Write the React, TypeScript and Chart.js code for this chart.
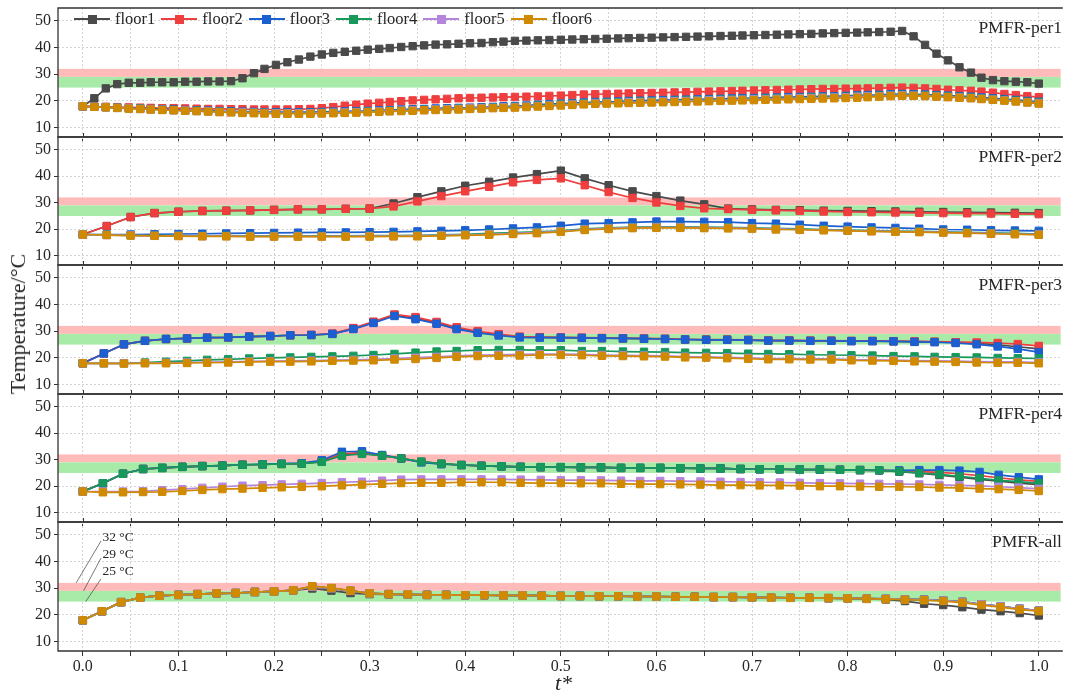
import React, { useEffect, useRef } from "react";
import { Chart, registerables } from "chart.js";

Chart.register(...registerables);

// ---------- categories / labels ----------
const FLOORS = ["floor1", "floor2", "floor3", "floor4", "floor5", "floor6"];
const COLORS = ["#4a4a4a", "#ef3e3e", "#1b5fd1", "#16995b", "#b585de", "#d08a00"];
const PANEL_LABELS = ["PMFR-per1", "PMFR-per2", "PMFR-per3", "PMFR-per4", "PMFR-all"];
const X_TICK_VALUES = [0, 0.1, 0.2, 0.3, 0.4, 0.5, 0.6, 0.7, 0.8, 0.9, 1.0];
const X_TICK_LABELS = ["0.0", "0.1", "0.2", "0.3", "0.4", "0.5", "0.6", "0.7", "0.8", "0.9", "1.0"];
const X_GRID_VALUES = [0, 0.05, 0.1, 0.15, 0.2, 0.25, 0.3, 0.35, 0.4, 0.45, 0.5, 0.55, 0.6, 0.65, 0.7, 0.75, 0.8, 0.85, 0.9, 0.95, 1.0];
const Y_TICK_VALUES = [10, 20, 30, 40, 50];
const Y_TICK_LABELS = ["10", "20", "30", "40", "50"];
const Y_GRID_VALUES = [10, 15, 20, 25, 30, 35, 40, 45, 50];
const BAND_WARM = [29, 32];
const BAND_COMFORT = [25, 29];
const THRESHOLDS = [32, 29, 25];
const THRESHOLD_LABELS = ["32 °C", "29 °C", "25 °C"];
const Y_TITLE = "Temperature/°C";
const X_TITLE = "t*";

// ---------- x sample positions ----------
const X_P1 = [0, 0.012, 0.024, 0.036, 0.048, 0.060, 0.071, 0.083, 0.095, 0.107, 0.119, 0.131, 0.143, 0.155, 0.167, 0.179, 0.190, 0.202, 0.214, 0.226, 0.238, 0.25, 0.262, 0.274, 0.286, 0.298, 0.310, 0.321, 0.333, 0.345, 0.357, 0.369, 0.381, 0.393, 0.405, 0.417, 0.429, 0.440, 0.452, 0.464, 0.476, 0.488, 0.5, 0.512, 0.524, 0.536, 0.548, 0.560, 0.571, 0.583, 0.595, 0.607, 0.619, 0.631, 0.643, 0.655, 0.667, 0.679, 0.690, 0.702, 0.714, 0.726, 0.738, 0.75, 0.762, 0.774, 0.786, 0.798, 0.810, 0.821, 0.833, 0.845, 0.857, 0.869, 0.881, 0.893, 0.905, 0.917, 0.929, 0.940, 0.952, 0.964, 0.976, 0.988, 1.0];
const X_P2 = [0, 0.025, 0.05, 0.075, 0.1, 0.125, 0.15, 0.175, 0.2, 0.225, 0.25, 0.275, 0.3, 0.325, 0.35, 0.375, 0.4, 0.425, 0.45, 0.475, 0.5, 0.525, 0.55, 0.575, 0.6, 0.625, 0.65, 0.675, 0.7, 0.725, 0.75, 0.775, 0.8, 0.825, 0.85, 0.875, 0.9, 0.925, 0.95, 0.975, 1.0];
const X_P3 = [0, 0.022, 0.043, 0.065, 0.087, 0.109, 0.130, 0.152, 0.174, 0.196, 0.217, 0.239, 0.261, 0.283, 0.304, 0.326, 0.348, 0.370, 0.391, 0.413, 0.435, 0.457, 0.478, 0.5, 0.522, 0.543, 0.565, 0.587, 0.609, 0.630, 0.652, 0.674, 0.696, 0.717, 0.739, 0.761, 0.783, 0.804, 0.826, 0.848, 0.870, 0.891, 0.913, 0.935, 0.957, 0.978, 1.0];
const X_P4 = [0, 0.021, 0.042, 0.063, 0.083, 0.104, 0.125, 0.146, 0.167, 0.188, 0.208, 0.229, 0.25, 0.271, 0.292, 0.313, 0.333, 0.354, 0.375, 0.396, 0.417, 0.438, 0.458, 0.479, 0.5, 0.521, 0.542, 0.563, 0.583, 0.604, 0.625, 0.646, 0.667, 0.688, 0.708, 0.729, 0.75, 0.771, 0.792, 0.813, 0.833, 0.854, 0.875, 0.896, 0.917, 0.938, 0.958, 0.979, 1.0];
const X_P5 = [0, 0.02, 0.04, 0.06, 0.08, 0.1, 0.12, 0.14, 0.16, 0.18, 0.2, 0.22, 0.24, 0.26, 0.28, 0.3, 0.32, 0.34, 0.36, 0.38, 0.4, 0.42, 0.44, 0.46, 0.48, 0.5, 0.52, 0.54, 0.56, 0.58, 0.6, 0.62, 0.64, 0.66, 0.68, 0.7, 0.72, 0.74, 0.76, 0.78, 0.8, 0.82, 0.84, 0.86, 0.88, 0.9, 0.92, 0.94, 0.96, 0.98, 1.0];

// ---------- PMFR-per1 ----------
const P1_F1 = [18, 21, 24.7, 26.3, 26.8, 26.8, 27, 27, 27, 27.2, 27.2, 27.3, 27.3, 27.4, 28.5, 30.4, 32, 33.5, 34.5, 35.5, 36.6, 37.4, 38, 38.4, 38.8, 39.2, 39.5, 39.8, 40.2, 40.5, 40.8, 41.1, 41.2, 41.4, 41.6, 41.7, 42, 42.2, 42.5, 42.6,
  42.7, 42.8, 42.9, 43.0, 43.1, 43.2, 43.3, 43.4, 43.5, 43.6, 43.7, 43.8, 43.9, 44.0, 44.1, 44.2, 44.3, 44.4, 44.5, 44.6, 44.7, 44.8, 44.9, 45.0, 45.1, 45.3, 45.4, 45.5, 45.6, 45.7, 45.8, 45.9, 46.2,
  44.2, 41, 37.7, 35.2, 32.6, 30.6, 28.7, 27.8, 27.4, 27.2, 27, 26.5];
const P1_F2 = [18, 17.9, 17.8, 17.7, 17.6, 17.5, 17.4, 17.3, 17.3, 17.2, 17.1, 17.0, 17.0, 16.9, 16.9, 16.8, 16.8, 16.8, 16.8, 16.9,
  17.0, 17.3, 17.7, 18.2, 18.6, 19.0, 19.3, 19.6, 19.9, 20.2, 20.4, 20.6, 20.8, 21.0, 21.1, 21.2, 21.3, 21.4, 21.5, 21.6,
  21.7, 21.9, 22.0, 22.2, 22.4, 22.5, 22.6, 22.7, 22.8, 22.9, 23.0, 23.1, 23.2, 23.3, 23.4, 23.5, 23.6, 23.7, 23.8, 23.9, 24.0, 24.1, 24.2, 24.3, 24.4, 24.5, 24.5, 24.6, 24.6, 24.7, 24.8, 24.9, 25.0,
  24.9, 24.7, 24.5, 24.2, 24.0, 23.8, 23.5, 23.1, 22.6, 22.2, 21.8, 21.4];
const P1_F3 = [18, 17.9, 17.7, 17.5, 17.3, 17.2, 17.0, 16.9, 16.8, 16.6, 16.5, 16.4, 16.2, 16.1, 16.0, 15.9, 15.8, 15.8, 15.8, 15.8,
  15.8, 15.9, 16.0, 16.1, 16.2, 16.3, 16.5, 16.6, 16.8, 16.9, 17.0, 17.2, 17.3, 17.4, 17.5, 17.7, 17.8, 18.0, 18.1, 18.3,
  18.6, 18.8, 19.0, 19.2, 19.4, 19.6, 19.7, 19.8, 20.0, 20.1, 20.2, 20.3, 20.4, 20.5, 20.6, 20.7, 20.8, 20.9, 21.0, 21.1, 21.2, 21.3, 21.4, 21.5, 21.6, 21.7, 21.8, 21.9, 22.1, 22.2, 22.3, 22.5, 22.6,
  22.5, 22.4, 22.2, 22.0, 21.8, 21.6, 21.3, 21.0, 20.7, 20.4, 20.0, 19.7];
const P1_F4 = [18, 17.8, 17.6, 17.4, 17.2, 17.1, 16.9, 16.7, 16.6, 16.4, 16.3, 16.2, 16.0, 15.9, 15.8, 15.7, 15.6, 15.5, 15.5, 15.5,
  15.5, 15.6, 15.7, 15.8, 15.9, 16.0, 16.2, 16.3, 16.5, 16.6, 16.7, 16.9, 17.0, 17.1, 17.3, 17.4, 17.5, 17.7, 17.8, 18.0,
  18.3, 18.5, 18.7, 18.9, 19.1, 19.3, 19.4, 19.5, 19.7, 19.8, 19.9, 20.0, 20.1, 20.2, 20.3, 20.4, 20.5, 20.6, 20.7, 20.8, 20.9, 21.0, 21.1, 21.2, 21.3, 21.4, 21.5, 21.6, 21.8, 21.9, 22.0, 22.2, 22.3,
  22.2, 22.1, 21.9, 21.7, 21.5, 21.3, 21.0, 20.7, 20.4, 20.1, 19.7, 19.4];
const P1_F5 = [18, 17.8, 17.6, 17.4, 17.2, 17.0, 16.8, 16.7, 16.5, 16.4, 16.2, 16.1, 15.9, 15.8, 15.7, 15.6, 15.5, 15.4, 15.4, 15.4,
  15.4, 15.5, 15.6, 15.7, 15.8, 15.9, 16.1, 16.2, 16.4, 16.5, 16.6, 16.8, 16.9, 17.0, 17.2, 17.3, 17.4, 17.6, 17.7, 17.9,
  18.1, 18.3, 18.5, 18.7, 18.9, 19.1, 19.2, 19.3, 19.5, 19.6, 19.7, 19.8, 19.9, 20.0, 20.1, 20.2, 20.3, 20.4, 20.5, 20.6, 20.7, 20.8, 20.9, 21.0, 21.1, 21.2, 21.3, 21.4, 21.6, 21.7, 21.8, 22.0, 22.1,
  22.0, 21.9, 21.7, 21.5, 21.3, 21.1, 20.8, 20.5, 20.2, 19.9, 19.5, 19.2];
const P1_F6 = [18, 17.8, 17.6, 17.4, 17.1, 17.0, 16.8, 16.6, 16.5, 16.3, 16.2, 16.0, 15.8, 15.7, 15.5, 15.4, 15.3, 15.2, 15.2, 15.2,
  15.2, 15.3, 15.4, 15.5, 15.6, 15.8, 15.9, 16.1, 16.2, 16.3, 16.5, 16.6, 16.7, 16.8, 17.0, 17.1, 17.3, 17.4, 17.5, 17.7,
  17.9, 18.1, 18.3, 18.5, 18.7, 18.9, 19.0, 19.1, 19.2, 19.3, 19.4, 19.5, 19.6, 19.7, 19.8, 19.9, 20.0, 20.1, 20.2, 20.3, 20.4, 20.5, 20.6, 20.7, 20.8, 20.9, 21.0, 21.1, 21.2, 21.4, 21.6, 21.8, 21.9,
  21.9, 21.8, 21.6, 21.4, 21.2, 21.0, 20.7, 20.4, 20.1, 19.8, 19.4, 19.0];

// ---------- PMFR-per2 ----------
const P2_F1 = [18, 21.2, 24.6, 26.1, 26.6, 26.9, 27.0, 27.1, 27.3, 27.5, 27.5, 27.7, 27.8,
  29.7, 32.1, 34.3, 36.4, 37.9, 39.5, 40.8, 42.1, 39.2, 36.6, 34.3, 32.5, 30.8, 29.4,
  27.8, 27.5, 27.3, 27.2, 27.0, 26.9, 26.8, 26.7, 26.6, 26.5, 26.4, 26.3, 26.2, 26.1];
const P2_F2 = [18, 21.2, 24.6, 26.1, 26.6, 26.9, 27.0, 27.1, 27.3, 27.5, 27.5, 27.7, 27.8,
  28.6, 30.5, 32.5, 34.3, 36.0, 37.7, 38.6, 39.2, 36.6, 34.0, 31.8, 30.1, 28.8, 27.9,
  27.6, 27.3, 27.1, 26.9, 26.7, 26.5, 26.4, 26.3, 26.2, 26.1, 26.0, 25.9, 25.8, 25.7];
const P2_F3 = [18, 18, 18, 18.1, 18.2, 18.3, 18.4, 18.5, 18.6, 18.7, 18.8, 18.8, 18.9, 19.0, 19.2, 19.4, 19.6, 19.9, 20.3, 20.7, 21.3,
  22.1, 22.3, 22.6, 22.9, 22.9, 22.8, 22.7, 22.3, 22.1, 21.7, 21.3, 21.0, 20.7, 20.5, 20.2, 19.9, 19.8, 19.6, 19.5, 19.4];
const P2_F4 = [18, 17.9, 17.7, 17.6, 17.6, 17.5, 17.5, 17.5, 17.5, 17.5, 17.5, 17.5, 17.6, 17.6, 17.7, 17.9, 18.1, 18.4, 18.7, 19.0, 19.4,
  20.1, 20.5, 20.8, 20.9, 20.9, 20.8, 20.7, 20.5, 20.3, 20.1, 19.9, 19.7, 19.5, 19.3, 19.2, 19.0, 18.8, 18.6, 18.4, 18.2];
const P2_F5 = [18, 17.8, 17.7, 17.5, 17.5, 17.4, 17.4, 17.3, 17.3, 17.3, 17.3, 17.3, 17.4, 17.4, 17.5, 17.7, 17.9, 18.1, 18.4, 18.7, 19.2,
  19.9, 20.3, 20.6, 20.7, 20.7, 20.6, 20.5, 20.3, 20.1, 19.9, 19.7, 19.5, 19.3, 19.1, 19.0, 18.8, 18.6, 18.4, 18.2, 18.0];
const P2_F6 = [18, 17.8, 17.6, 17.5, 17.4, 17.3, 17.3, 17.2, 17.2, 17.2, 17.2, 17.2, 17.2, 17.3, 17.3, 17.5, 17.7, 17.9, 18.2, 18.5, 19.0,
  19.7, 20.1, 20.4, 20.5, 20.5, 20.4, 20.3, 20.2, 19.9, 19.8, 19.6, 19.4, 19.2, 19.0, 18.9, 18.7, 18.5, 18.3, 18.1, 17.9];

// ---------- PMFR-per3 ----------
const P3_F1 = [18, 21.7, 25.1, 26.4, 27.1, 27.3, 27.6, 27.7, 28.0, 28.2, 28.5, 28.6, 29.0, 31.0, 33.3, 36.0, 34.9, 33.1, 31.1, 29.7, 28.6, 27.8,
  27.7, 27.6, 27.5, 27.4, 27.3, 27.2, 27.1, 26.9, 26.8, 26.8, 26.7, 26.5, 26.5, 26.4, 26.4, 26.3, 26.3, 26.2, 26.1, 26.0, 25.8, 25.5, 24.9, 24.2, 23.4];
const P3_F2 = [18, 21.7, 25.1, 26.4, 27.1, 27.3, 27.6, 27.7, 28.0, 28.2, 28.5, 28.6, 29.1, 31.2, 33.6, 36.3, 35.3, 33.5, 31.5, 30.0, 28.9, 28.0,
  27.8, 27.7, 27.6, 27.5, 27.4, 27.3, 27.2, 27.0, 26.9, 26.9, 26.8, 26.6, 26.6, 26.5, 26.5, 26.4, 26.4, 26.3, 26.2, 26.1, 25.9, 25.8, 25.6, 25.2, 24.5];
const P3_F3 = [18, 21.7, 25.1, 26.4, 27.1, 27.3, 27.6, 27.7, 28.0, 28.2, 28.5, 28.6, 29.0, 30.8, 33.1, 35.7, 34.5, 32.8, 30.8, 29.4, 28.4, 27.7,
  27.6, 27.6, 27.5, 27.4, 27.3, 27.2, 27.1, 26.9, 26.8, 26.8, 26.7, 26.5, 26.5, 26.4, 26.4, 26.3, 26.3, 26.2, 26.0, 25.9, 25.6, 25.1, 24.3, 23.4, 22.2];
const P3_F4 = [18, 18, 18, 18.3, 18.6, 18.9, 19.3, 19.5, 19.8, 20.0, 20.2, 20.4, 20.6, 20.8, 21.1, 21.5, 22.0, 22.4, 22.6, 22.9, 23.0, 23.0,
  22.9, 22.9, 22.6, 22.6, 22.4, 22.3, 22.2, 22.0, 21.9, 21.8, 21.6, 21.5, 21.4, 21.2, 21.1, 21.0, 20.9, 20.7, 20.6, 20.4, 20.3, 20.2, 20.0, 19.9, 19.8];
const P3_F5 = [18, 18, 18, 18.1, 18.2, 18.3, 18.4, 18.5, 18.7, 18.8, 18.9, 19.0, 19.2, 19.3, 19.5, 19.8, 20.1, 20.4, 20.8, 21.1, 21.2, 21.3,
  21.4, 21.4, 21.3, 21.1, 21.0, 20.9, 20.8, 20.5, 20.4, 20.2, 20.0, 19.8, 19.8, 19.7, 19.7, 19.4, 19.3, 19.2, 19.0, 18.9, 18.8, 18.6, 18.5, 18.5, 18.3];
const P3_F6 = [18, 18, 17.9, 18, 18, 18.1, 18.2, 18.3, 18.5, 18.6, 18.6, 18.7, 18.9, 19.0, 19.1, 19.4, 19.6, 20.0, 20.4, 20.7, 20.8, 20.9,
  21.1, 21.1, 21.0, 20.8, 20.7, 20.6, 20.5, 20.2, 20.1, 19.9, 19.7, 19.5, 19.5, 19.4, 19.4, 19.1, 19.0, 18.9, 18.7, 18.6, 18.5, 18.3, 18.2, 18.2, 18.0];

// ---------- PMFR-per4 ----------
const P4_F1 = [18, 21.1, 24.7, 26.5, 26.9, 27.3, 27.6, 27.8, 28.1, 28.2, 28.4, 28.5, 29.3, 31.8, 32.5, 31.5, 30.5, 29.2, 28.5, 28.0, 27.7, 27.5, 27.3,
  27.2, 27.2, 27.1, 27.1, 26.9, 26.9, 26.9, 26.8, 26.7, 26.7, 26.5, 26.4, 26.4, 26.3, 26.3, 26.2, 26.1, 26.0, 25.5, 24.9, 24.2, 23.4, 22.6, 21.9, 21.2, 20.6];
const P4_F2 = [18, 21.1, 24.7, 26.5, 26.9, 27.3, 27.6, 27.8, 28.1, 28.2, 28.4, 28.6, 29.5, 32.3, 32.7, 31.6, 30.5, 29.1, 28.4, 28.0, 27.7, 27.5, 27.3,
  27.2, 27.2, 27.1, 27.1, 26.9, 26.9, 26.9, 26.8, 26.7, 26.7, 26.5, 26.4, 26.4, 26.3, 26.3, 26.2, 26.1, 26.0, 25.8, 25.5, 25.2, 24.7, 24.0, 23.2, 22.4, 21.8];
const P4_F3 = [18, 21.1, 24.7, 26.5, 26.9, 27.3, 27.6, 27.8, 28.1, 28.3, 28.5, 28.7, 29.8, 33.0, 33.2, 31.8, 30.5, 29.0, 28.3, 28.0, 27.7, 27.5, 27.3,
  27.2, 27.2, 27.1, 27.1, 26.9, 26.9, 26.9, 26.8, 26.7, 26.7, 26.5, 26.4, 26.4, 26.3, 26.3, 26.2, 26.1, 26.0, 26.0, 26.1, 26.1, 25.9, 25.4, 24.3, 23.4, 22.6];
const P4_F4 = [18, 21.1, 24.7, 26.5, 26.9, 27.3, 27.6, 27.8, 28.1, 28.2, 28.4, 28.5, 29.2, 31.5, 32.2, 31.5, 30.5, 29.3, 28.5, 28.0, 27.7, 27.5, 27.3,
  27.2, 27.2, 27.1, 27.1, 26.9, 26.9, 26.9, 26.8, 26.7, 26.7, 26.5, 26.4, 26.4, 26.3, 26.3, 26.2, 26.1, 26.0, 25.6, 25.0, 24.5, 23.7, 23.0, 22.2, 21.7, 21.1];
const P4_F5 = [18, 18, 18, 18.1, 18.5, 18.9, 19.4, 19.8, 20.2, 20.4, 20.7, 20.9, 21.2, 21.5, 21.7, 22.1, 22.5, 22.6, 22.6, 22.6, 22.6, 22.6, 22.5,
  22.4, 22.3, 22.3, 22.2, 22.1, 22.0, 22.0, 21.9, 21.8, 21.7, 21.6, 21.5, 21.4, 21.3, 21.2, 21.1, 21.0, 20.9, 20.8, 20.7, 20.5, 20.3, 20.1, 19.8, 19.5, 19.0];
const P4_F6 = [18, 17.7, 17.7, 17.8, 17.9, 18.2, 18.6, 18.9, 19.1, 19.4, 19.6, 19.8, 20.0, 20.3, 20.6, 20.9, 21.2, 21.3, 21.3, 21.5, 21.5, 21.5, 21.3,
  21.2, 21.2, 21.1, 21.1, 20.9, 20.8, 20.8, 20.7, 20.6, 20.4, 20.4, 20.3, 20.3, 20.2, 20.0, 20.0, 19.9, 19.8, 19.8, 19.7, 19.5, 19.4, 19.1, 18.9, 18.6, 18.2];

// ---------- PMFR-all ----------
const P5_F1 = [18, 21.4, 24.8, 26.5, 27.2, 27.5, 27.8, 28.1, 28.2, 28.6, 28.8, 29.2, 29.9, 29.1, 28.2, 27.8, 27.7, 27.6, 27.5, 27.5, 27.4, 27.4, 27.3, 27.3,
  27.2, 27.1, 27.1, 27.0, 27.0, 26.9, 26.9, 26.8, 26.8, 26.7, 26.7, 26.6, 26.5, 26.4, 26.4, 26.3, 26.2, 26.0,
  25.8, 25.2, 24.2, 23.7, 22.9, 22.0, 21.4, 20.7, 19.8];
const P5_MID = [18, 21.4, 24.8, 26.5, 27.2, 27.5, 27.8, 28.1, 28.2, 28.6, 28.8, 29.2, 30.6, 30.0, 29.0, 28.1, 27.8, 27.7, 27.5, 27.5, 27.4, 27.4, 27.3, 27.3,
  27.2, 27.1, 27.1, 27.0, 27.0, 26.9, 26.9, 26.8, 26.8, 26.7, 26.7, 26.6, 26.5, 26.4, 26.4, 26.3, 26.2, 26.1,
  26.0, 25.8, 25.7, 25.4, 24.9, 24.0, 23.2, 22.3, 21.6];
const P5_F6 = [18, 21.4, 24.8, 26.5, 27.2, 27.5, 27.8, 28.1, 28.2, 28.6, 28.8, 29.2, 30.8, 30.1, 29.1, 28.1, 27.8, 27.7, 27.5, 27.5, 27.4, 27.4, 27.3, 27.3,
  27.2, 27.1, 27.1, 27.0, 27.0, 26.9, 26.9, 26.8, 26.8, 26.7, 26.7, 26.6, 26.5, 26.4, 26.4, 26.3, 26.2, 26.1,
  25.9, 25.7, 25.5, 25.2, 24.6, 23.7, 22.9, 22.0, 21.4];

const PANELS = [
  { x: X_P1, series: [P1_F1, P1_F2, P1_F3, P1_F4, P1_F5, P1_F6] },
  { x: X_P2, series: [P2_F1, P2_F2, P2_F3, P2_F4, P2_F5, P2_F6] },
  { x: X_P3, series: [P3_F1, P3_F2, P3_F3, P3_F4, P3_F5, P3_F6] },
  { x: X_P4, series: [P4_F1, P4_F2, P4_F3, P4_F4, P4_F5, P4_F6] },
  { x: X_P5, series: [P5_F1, P5_MID, P5_MID, P5_MID, P5_MID, P5_F6] },
];

// ---------- layout / style ----------
const PAGE_W = 1067;
const PAGE_H = 696;
const PANEL_TOP = 8;
const PANEL_STEP = 128.5;
const PAD = 14;
const LEFT_W = 58;
const X_MIN = -0.026;
const X_MAX = 1.023;
const Y_MIN = 6.5;
const Y_MAX = 54.8;
const FONT = '"Liberation Serif", "Times New Roman", serif';
const INK = "#262626";
const GRID = "#d4d4d4";
const WARM_FILL = "#ffbaba";
const COMFORT_FILL = "#a8eba9";

const panelPlugin = (index: number) => ({
  id: "panelDecor" + index,
  beforeDatasetsDraw(chart: any) {
    const { ctx, chartArea: a, scales } = chart;
    const y = scales.y;
    ctx.save();
    ctx.beginPath();
    ctx.rect(a.left, a.top, a.right - a.left, a.bottom - a.top);
    ctx.clip();
    const yw1 = y.getPixelForValue(BAND_WARM[1]);
    const yw0 = y.getPixelForValue(BAND_WARM[0]);
    const yc0 = y.getPixelForValue(BAND_COMFORT[0]);
    ctx.fillStyle = WARM_FILL;
    ctx.fillRect(a.left, yw1, a.right - a.left, yw0 - yw1);
    ctx.fillStyle = COMFORT_FILL;
    ctx.fillRect(a.left, yw0, a.right - a.left, yc0 - yw0);
    ctx.restore();
  },
  afterDraw(chart: any) {
    const { ctx, chartArea: a, scales } = chart;
    ctx.save();
    ctx.strokeStyle = "#333";
    ctx.lineWidth = 1.3;
    ctx.beginPath();
    ctx.moveTo(a.right + 2, a.top);
    ctx.lineTo(a.left, a.top);
    ctx.lineTo(a.left, a.bottom);
    ctx.lineTo(a.right + 2, a.bottom);
    ctx.stroke();
    if (index > 0) {
      ctx.lineWidth = 1;
      ctx.beginPath();
      for (const v of X_GRID_VALUES) {
        const px = Math.round(scales.x.getPixelForValue(v)) + 0.5;
        ctx.moveTo(px, a.top);
        ctx.lineTo(px, a.top - 4);
      }
      ctx.stroke();
    }
    if (index === PANELS.length - 1) {
      const xs = scales.x;
      const ys = scales.y;
      const lowX = [-0.007, 0.0007, 0.003];
      const highY = [47.7, 41.3, 33.5];
      const textY = [49.0, 42.5, 36.4];
      ctx.strokeStyle = "#555";
      ctx.lineWidth = 0.8;
      ctx.fillStyle = INK;
      ctx.font = "13.5px " + FONT;
      ctx.textBaseline = "middle";
      ctx.textAlign = "left";
      THRESHOLDS.forEach((t, k) => {
        ctx.beginPath();
        ctx.moveTo(xs.getPixelForValue(lowX[k]), ys.getPixelForValue(t));
        ctx.lineTo(xs.getPixelForValue(0.019), ys.getPixelForValue(highY[k]));
        ctx.stroke();
        ctx.fillText(THRESHOLD_LABELS[k], xs.getPixelForValue(0.0205), ys.getPixelForValue(textY[k]));
      });
    }
    ctx.restore();
  },
});

function Panel({ index }: { index: number }) {
  const ref = useRef<HTMLCanvasElement | null>(null);
  const top = Math.round(PANEL_TOP + PANEL_STEP * index);
  const bottom = Math.round(PANEL_TOP + PANEL_STEP * (index + 1));
  const last = index === PANELS.length - 1;
  const below = last ? PAGE_H - bottom : PAD;
  const h = bottom - top + PAD + below;

  useEffect(() => {
    const p = PANELS[index];
    const datasets = p.series.map((ys, k) => ({
      label: FLOORS[k],
      data: p.x.map((x, i) => ({ x, y: ys[i] })).filter((d) => d.y !== undefined),
      borderColor: COLORS[k],
      backgroundColor: COLORS[k],
      pointBackgroundColor: COLORS[k],
      pointBorderColor: COLORS[k],
      borderWidth: 1.7,
      pointStyle: "rect",
      pointRadius: 5.2,
      pointBorderWidth: 1,
      tension: 0,
      order: FLOORS.length - 1 - k,
    }));
    const tickFont = { family: FONT, size: 16 };
    const chart = new Chart(ref.current as HTMLCanvasElement, {
      type: "line",
      data: { datasets } as any,
      options: {
        animation: false,
        responsive: false,
        maintainAspectRatio: false,
        events: [],
        layout: { padding: { top: PAD, bottom: last ? 0 : PAD, left: 0, right: 0 } },
        plugins: { legend: { display: false }, tooltip: { enabled: false } },
        scales: {
          x: {
            type: "linear",
            min: X_MIN,
            max: X_MAX,
            afterBuildTicks: (s: any) => {
              s.ticks = X_GRID_VALUES.map((v) => ({ value: v }));
            },
            afterFit: (s: any) => {
              s.height = last ? below : 0;
            },
            ticks: {
              display: last,
              autoSkip: false,
              maxRotation: 0,
              padding: 1,
              color: INK,
              font: tickFont,
              callback: (v: any) => {
                const k = X_TICK_VALUES.findIndex((t) => Math.abs(t - Number(v)) < 1e-6);
                return k >= 0 ? X_TICK_LABELS[k] : "";
              },
            },
            grid: { color: GRID, lineWidth: 1, drawTicks: true, tickLength: 5, tickColor: "#333", tickWidth: 1, tickBorderDash: [] },
            border: { display: false, dash: [2, 2] },
          },
          y: {
            type: "linear",
            min: Y_MIN,
            max: Y_MAX,
            afterBuildTicks: (s: any) => {
              s.ticks = Y_GRID_VALUES.map((v) => ({ value: v }));
            },
            afterFit: (s: any) => {
              s.width = LEFT_W;
            },
            ticks: {
              padding: 3,
              color: INK,
              font: tickFont,
              callback: (v: any) => {
                const k = Y_TICK_VALUES.indexOf(Number(v));
                return k >= 0 ? Y_TICK_LABELS[k] : "";
              },
            },
            grid: { color: GRID, lineWidth: 1, drawTicks: true, tickLength: 4, tickColor: "#333", tickWidth: 1, tickBorderDash: [] },
            border: { display: false, dash: [2, 2] },
          },
        },
      } as any,
      plugins: [panelPlugin(index)],
    });
    return () => chart.destroy();
  }, [index]);

  return (
    <canvas
      ref={ref}
      width={PAGE_W}
      height={h}
      style={{ position: "absolute", left: 0, top: top - PAD, width: PAGE_W, height: h }}
    />
  );
}

function LegendItem({ name, color }: { name: string; color: string }) {
  return (
    <div style={{ display: "flex", alignItems: "center", marginRight: 6 }}>
      <div style={{ position: "relative", width: 36, height: 10 }}>
        <div style={{ position: "absolute", left: 0, right: 0, top: 4, height: 1.7, background: color }} />
        <div style={{ position: "absolute", left: 13.5, top: 0.5, width: 9, height: 9, background: color }} />
      </div>
      <span style={{ marginLeft: 5, fontSize: 16.5, color: INK, lineHeight: "20px" }}>{name}</span>
    </div>
  );
}

export default function App() {
  return (
    <div
      style={{
        position: "fixed",
        left: 0,
        top: 0,
        width: PAGE_W,
        height: PAGE_H,
        overflow: "hidden",
        background: "#fff",
        fontFamily: FONT,
      }}
    >
      {PANELS.map((_, i) => (
        <Panel key={i} index={i} />
      ))}
      <div style={{ position: "absolute", left: 74, top: 9, display: "flex", alignItems: "center" }}>
        {FLOORS.map((f, k) => (
          <LegendItem key={f} name={f} color={COLORS[k]} />
        ))}
      </div>
      {PANEL_LABELS.map((t, i) => (
        <div
          key={t}
          style={{
            position: "absolute",
            right: 5,
            top: Math.round(PANEL_TOP + PANEL_STEP * i) + 8,
            fontSize: 17.5,
            lineHeight: "22px",
            color: INK,
            whiteSpace: "nowrap",
          }}
        >
          {t}
        </div>
      ))}
      <div
        style={{
          position: "absolute",
          left: 18,
          top: 324,
          transform: "translate(-50%, -50%) rotate(-90deg)",
          fontSize: 22,
          color: INK,
          whiteSpace: "nowrap",
        }}
      >
        {Y_TITLE}
      </div>
      <div
        style={{
          position: "absolute",
          left: 555,
          top: 671,
          fontSize: 22,
          fontStyle: "italic",
          color: INK,
          lineHeight: "24px",
        }}
      >
        {X_TITLE}
      </div>
    </div>
  );
}
